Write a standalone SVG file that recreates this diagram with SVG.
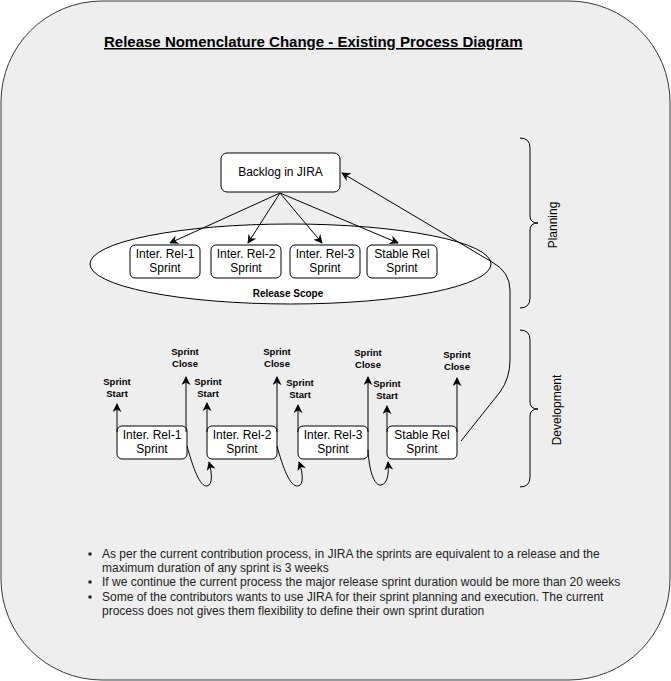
<svg xmlns="http://www.w3.org/2000/svg" width="671" height="681" viewBox="0 0 671 681">
<defs>
<marker id="arr" viewBox="0 0 10 10" refX="9" refY="5" markerWidth="9" markerHeight="9" orient="auto" markerUnits="userSpaceOnUse">
<path d="M0,0 L10,5 L0,10 L3,5 z" fill="#000"/>
</marker>
</defs>
<style>
text{font-family:"Liberation Sans",Arial,sans-serif;fill:#000}
.box{fill:#fff;stroke:#000;stroke-width:1}
.t12{font-size:12px;text-anchor:middle}
.lbl{font-size:9.5px;font-weight:bold;text-anchor:middle}
.conn{fill:none;stroke:#000;stroke-width:1;marker-end:url(#arr)}
.brace{fill:none;stroke:#000;stroke-width:1}
.bul{font-size:12px;fill:#222}
</style>
<rect id="frame" x="1" y="1" width="669" height="679" rx="101" ry="101" fill="#eeeeee" stroke="#36393d" stroke-width="1"/>
<text id="title" x="104" y="47" font-size="15" font-weight="bold" text-decoration="underline">Release Nomenclature Change - Existing Process Diagram </text>

<g id="release-scope">
<ellipse cx="290.5" cy="264" rx="200.5" ry="40" fill="#fff" stroke="#000"/>
<text x="288" y="297" font-size="10" font-weight="bold" text-anchor="middle">Release Scope</text>
</g>

<g id="backlog">
<rect class="box" x="221" y="153" width="119" height="39" rx="6"/>
<text class="t12" x="280.5" y="176">Backlog in JIRA</text>
</g>

<g id="plan-rel1"><rect class="box" x="130" y="245" width="70" height="33" rx="5"/><text class="t12" x="165" y="258">Inter. Rel-1</text><text class="t12" x="165" y="272">Sprint</text></g>
<g id="plan-rel2"><rect class="box" x="211" y="245" width="70" height="33" rx="5"/><text class="t12" x="246" y="258">Inter. Rel-2</text><text class="t12" x="246" y="272">Sprint</text></g>
<g id="plan-rel3"><rect class="box" x="290" y="245" width="70" height="33" rx="5"/><text class="t12" x="325" y="258">Inter. Rel-3</text><text class="t12" x="325" y="272">Sprint</text></g>
<g id="plan-stable"><rect class="box" x="367" y="245" width="70" height="33" rx="5"/><text class="t12" x="402" y="258">Stable Rel</text><text class="t12" x="402" y="272">Sprint</text></g>

<g id="dev-rel1"><rect class="box" x="117" y="426" width="70" height="33" rx="5"/><text class="t12" x="152" y="439">Inter. Rel-1</text><text class="t12" x="152" y="453">Sprint</text></g>
<g id="dev-rel2"><rect class="box" x="207" y="426" width="70" height="33" rx="5"/><text class="t12" x="242" y="439">Inter. Rel-2</text><text class="t12" x="242" y="453">Sprint</text></g>
<g id="dev-rel3"><rect class="box" x="298" y="426" width="70" height="33" rx="5"/><text class="t12" x="333" y="439">Inter. Rel-3</text><text class="t12" x="333" y="453">Sprint</text></g>
<g id="dev-stable"><rect class="box" x="387" y="426" width="70" height="33" rx="5"/><text class="t12" x="422" y="439">Stable Rel</text><text class="t12" x="422" y="453">Sprint</text></g>

<g id="labels">
<text class="lbl" x="117" y="385">Sprint</text><text class="lbl" x="117" y="397">Start</text>
<text class="lbl" x="185" y="355">Sprint</text><text class="lbl" x="185" y="367">Close</text>
<text class="lbl" x="208" y="385">Sprint</text><text class="lbl" x="208" y="397">Start</text>
<text class="lbl" x="277" y="355">Sprint</text><text class="lbl" x="277" y="367">Close</text>
<text class="lbl" x="300" y="386">Sprint</text><text class="lbl" x="300" y="398">Start</text>
<text class="lbl" x="368" y="356">Sprint</text><text class="lbl" x="368" y="368">Close</text>
<text class="lbl" x="387" y="387">Sprint</text><text class="lbl" x="387" y="399">Start</text>
<text class="lbl" x="457" y="358">Sprint</text><text class="lbl" x="457" y="370">Close</text>
</g>

<g id="connectors">
<path class="conn" d="M280,193 L170,243"/>
<path class="conn" d="M280,193 L248,243"/>
<path class="conn" d="M280,193 L322,243"/>
<path class="conn" d="M280,193 L398,243"/>
<path class="conn" d="M461,441 L500,392 Q510,378 510,360 L510,290 Q510,272 492,262 L342,173"/>
<path class="conn" d="M117,432 L117,404"/>
<path class="conn" d="M186,432 L186,377"/>
<path class="conn" d="M207,432 L207,403"/>
<path class="conn" d="M277,432 L277,377"/>
<path class="conn" d="M298,432 L298,405"/>
<path class="conn" d="M368,432 L368,377"/>
<path class="conn" d="M387,432 L387,406"/>
<path class="conn" d="M457,432 L457,378"/>
<path class="conn" d="M187,446 C193,468 200,487 207,486 C213,485 212,473 209,462"/>
<path class="conn" d="M277,446 C283,468 290,487 298,486 C304,485 303,473 299,462"/>
<path class="conn" d="M368,450 C369,470 374,486 381,485 C388,484 389,472 388,462"/>
</g>

<g id="planning-brace">
<path class="brace" d="M520,138 Q530,138 530,148 L530,216 Q530,223 538,223 Q530,223 530,230 L530,298 Q530,308 520,308"/>
<text font-size="12" text-anchor="middle" transform="translate(557,225) rotate(-90)">Planning</text>
</g>
<g id="development-brace">
<path class="brace" d="M520,330 Q530,330 530,340 L530,402 Q530,409 538,409 Q530,409 530,416 L530,477 Q530,487 520,487"/>
<text font-size="12" text-anchor="middle" transform="translate(561,410) rotate(-90)">Development</text>
</g>

<g id="notes">
<circle cx="90" cy="554" r="1.8" fill="#222"/>
<circle cx="90" cy="582" r="1.8" fill="#222"/>
<circle cx="90" cy="597" r="1.8" fill="#222"/>
<text class="bul" x="102" y="558">As per the current contribution process, in JIRA the sprints are equivalent to a release and the</text>
<text class="bul" x="102" y="572">maximum duration of any sprint is 3 weeks</text>
<text class="bul" x="102" y="586">If we continue the current process the major release sprint duration would be more than 20 weeks</text>
<text class="bul" x="102" y="601">Some of the contributors wants to use JIRA for their sprint planning and execution. The current</text>
<text class="bul" x="102" y="615">process does not gives them flexibility to define their own sprint duration</text>
</g>
</svg>
